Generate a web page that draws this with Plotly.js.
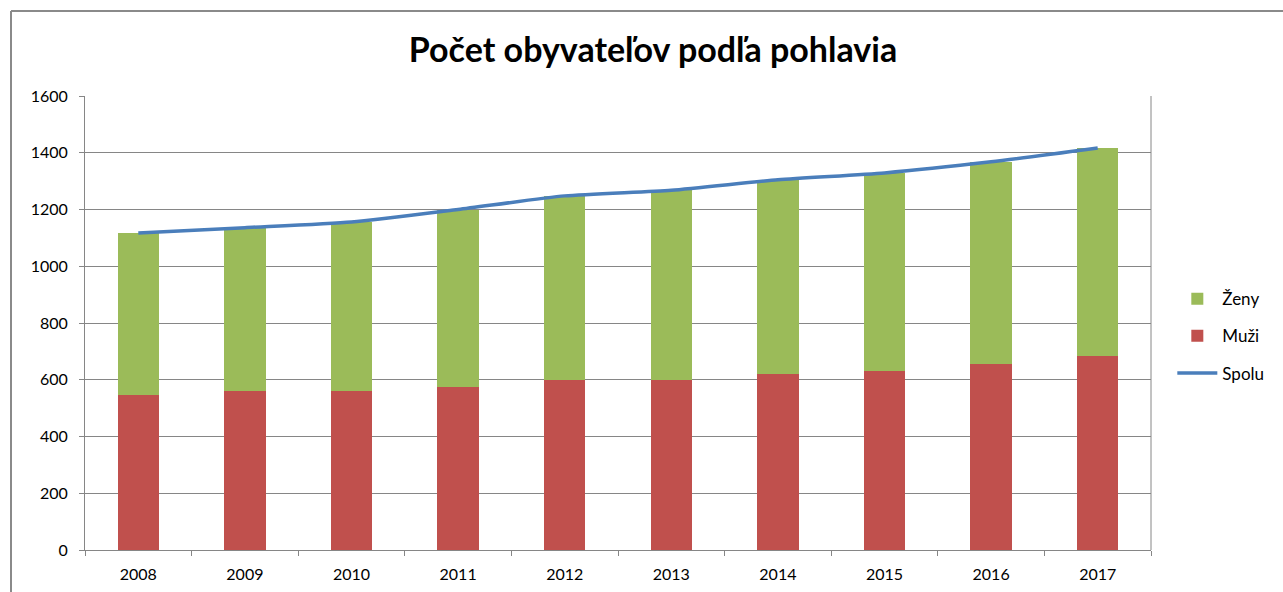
<!DOCTYPE html>
<html>
<head>
<meta charset="utf-8">
<script src="https://cdn.plot.ly/plotly-3.0.1.min.js"></script>
<style>html,body{margin:0;padding:0;background:#fff;}#chart{width:1283px;height:592px;}</style>
</head>
<body>
<div id="chart"></div>
<script>
const years = ["2008","2009","2010","2011","2012","2013","2014","2015","2016","2017"];
const muzi = [545, 562, 562, 574, 600, 600, 621, 630, 655, 682];
const zeny = [572, 574, 594, 626, 648, 668, 684, 699, 713, 735];
const spolu = [1117, 1136, 1156, 1200, 1248, 1268, 1305, 1329, 1368, 1417];
const yTicks = [0, 200, 400, 600, 800, 1000, 1200, 1400, 1600];

const font = "Lato, 'Open Sans', 'DejaVu Sans', sans-serif";
const data = [
  {type: "bar", name: "Muži", x: years, y: muzi, marker: {color: "#C0504D"}, legendrank: 2, legendgroup: "m"},
  {type: "bar", name: "Ženy", x: years, y: zeny, marker: {color: "#9BBB59"}, legendrank: 1, legendgroup: "z"},
  {type: "scatter", mode: "lines", name: "Spolu", x: years, y: spolu, legendgroup: "s",
   line: {color: "#4A7EBB", width: 3.5, shape: "spline", smoothing: 0.6}, legendrank: 3}
];
const layout = {
  width: 1283, height: 592,
  margin: {l: 85, r: 132, t: 96, b: 42},
  paper_bgcolor: "#fff", plot_bgcolor: "#fff",
  barmode: "stack", bargap: 0.61,
  showlegend: true,
  title: {text: "Počet obyvateľov podľa pohlavia", x: 653/1283, xanchor: "center", xref: "container",
          y: 1 - 50/592, yanchor: "middle", yref: "container",
          font: {family: font, size: 34, color: "#000", weight: 700}},
  legend: {x: 1.02, xanchor: "left", y: 0.471, yanchor: "middle", traceorder: "grouped",
           font: {family: font, size: 17, color: "#000"}, tracegroupgap: 12, itemwidth: 40},
  xaxis: {type: "category", tickson: "boundaries", ticks: "outside", ticklen: 5, tickcolor: "#868686",
          showline: true, linecolor: "#868686", linewidth: 1, showgrid: false, ticklabelstandoff: 10,
          tickfont: {family: font, size: 16, color: "#000"}, fixedrange: true},
  yaxis: {range: [0, 1600], tickvals: yTicks, ticks: "outside", ticklen: 5, tickcolor: "#868686",
          showline: true, linecolor: "#868686", linewidth: 1, showgrid: true, gridcolor: "#868686", gridwidth: 1,
          zeroline: false, ticklabelstandoff: 8,
          tickfont: {family: font, size: 16, color: "#000"}, fixedrange: true},
  shapes: [
    {type: "line", xref: "paper", yref: "paper", x0: -74/1066, x1: 1.3, y0: 539/454, y1: 539/454,
     line: {color: "#8a8a8a", width: 2}},
    {type: "line", xref: "paper", yref: "paper", x0: -74/1066, x1: -74/1066, y0: 539/454, y1: -0.2,
     line: {color: "#8a8a8a", width: 2}},
    {type: "line", xref: "paper", yref: "paper", x0: 1, x1: 1, y0: 0, y1: 1,
     line: {color: "#868686", width: 1}}
  ]
};
Plotly.newPlot("chart", data, layout, {displayModeBar: false, staticPlot: true});
</script>
</body>
</html>
